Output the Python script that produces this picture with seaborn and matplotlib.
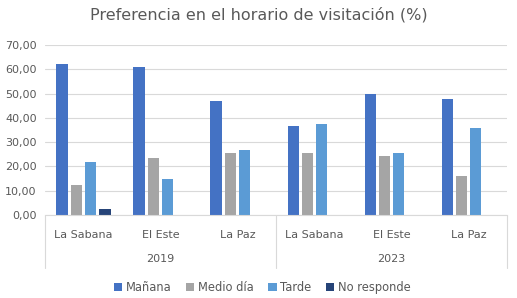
import numpy as np
import pandas as pd
import seaborn as sns
import matplotlib.pyplot as plt
from matplotlib.ticker import FuncFormatter

years = ["2019", "2023"]
zonas = ["La Sabana", "El Este", "La Paz"]
horarios = ["Mañana", "Medio día", "Tarde", "No responde"]

manana = [62.0, 60.9, 47.0, 36.6, 49.8, 47.6]
medio_dia = [12.2, 23.6, 25.4, 25.4, 24.3, 15.9]
tarde = [21.9, 14.8, 26.7, 37.3, 25.4, 35.9]
no_responde = [2.5, 0.0, 0.0, 0.0, 0.0, 0.0]

colores = ["#4472C4", "#A5A5A5", "#5B9BD5", "#264478"]

# long table for seaborn
cats = [f"{y} {z}" for y in years for z in zonas]
rows = []
for name, vals in zip(horarios, [manana, medio_dia, tarde, no_responde]):
    for c, v in zip(cats, vals):
        rows.append({"cat": c, "horario": name, "valor": v})
df = pd.DataFrame(rows)

sns.set_style("white")
plt.rcParams["font.family"] = ["DejaVu Sans"]
txt = "#595959"

fig = plt.figure(figsize=(5.17, 2.98), dpi=100)
ax = fig.add_axes([0.087, 0.279, 0.894, 0.57])

sns.barplot(data=df, x="cat", y="valor", hue="horario", order=cats,
            hue_order=horarios, palette=colores, saturation=1, width=0.74,
            gap=0.2, linewidth=0, errorbar=None, ax=ax)

ax.set_ylim(0, 70)
ax.set_yticks(np.arange(0, 71, 10))
ax.yaxis.set_major_formatter(FuncFormatter(lambda v, p: f"{v:.2f}".replace(".", ",")))
ax.grid(axis="y", color="#D9D9D9", linewidth=0.8)
ax.set_axisbelow(True)
ax.set_xlim(-0.5, len(cats) - 0.5)
for s in ["left", "right", "top"]:
    ax.spines[s].set_visible(False)
ax.spines["bottom"].set_color("#D9D9D9")
ax.tick_params(axis="y", length=0, labelsize=8, labelcolor=txt, pad=6)
ax.tick_params(axis="x", length=0, labelsize=8, labelcolor=txt, pad=11)
ax.set_xticks(range(len(cats)))
ax.set_xticklabels(zonas * len(years))
ax.set_xlabel("")
ax.set_ylabel("")

# year group labels and separators
trans = ax.get_xaxis_transform()
for i, y in enumerate(years):
    ax.text(i * 3 + 1, -0.26, y, transform=trans, ha="center", va="center",
            fontsize=8, color=txt)
for xs in [-0.5, 2.5, 5.5]:
    ax.plot([xs, xs], [0, -0.31], transform=trans, color="#D9D9D9",
            linewidth=0.8, clip_on=False)

ax.legend(loc="center", bbox_to_anchor=(0.47, -0.43), ncol=4, frameon=False,
          fontsize=8.3, labelcolor=txt, handlelength=0.7, handleheight=0.7,
          handletextpad=0.3, columnspacing=1.3)

fig.suptitle("Preferencia en el horario de visitación (%)", y=0.975,
             fontsize=11.5, color=txt)

fig.savefig("out.png", dpi=100)
